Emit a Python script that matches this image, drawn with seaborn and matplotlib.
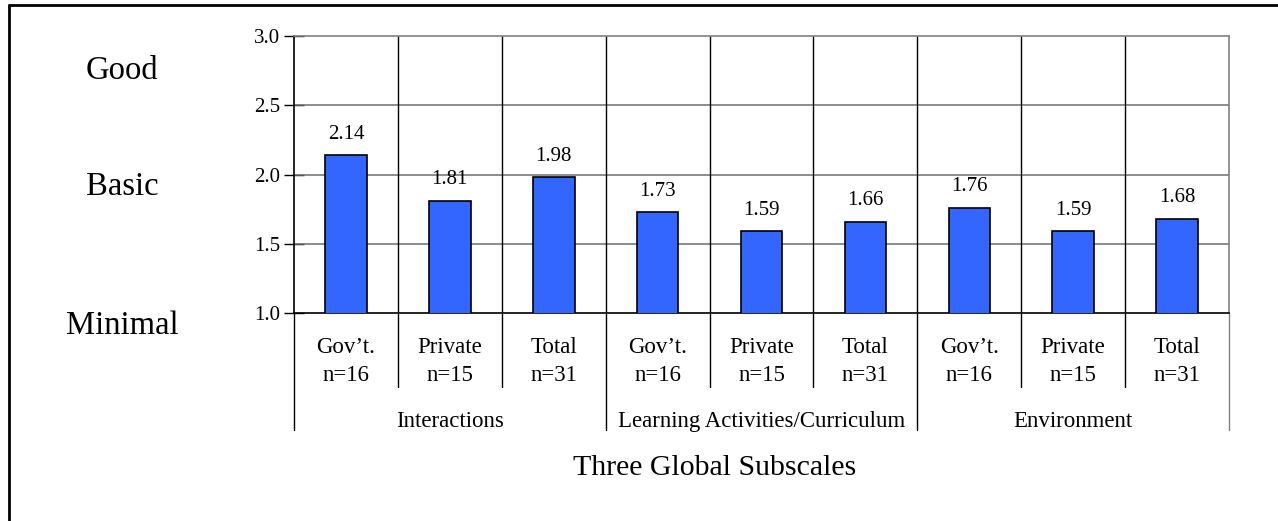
import matplotlib
matplotlib.use("Agg")
import matplotlib.pyplot as plt
from matplotlib.lines import Line2D
import seaborn as sns
import pandas as pd

# Mean scores per subscale and sector
groups = ["Interactions", "Learning Activities/Curriculum", "Environment"]
sectors = ["Gov\u2019t.", "Private", "Total"]
sample_sizes = ["n=16", "n=15", "n=31"]
scores = [2.14, 1.81, 1.98, 1.73, 1.59, 1.66, 1.76, 1.59, 1.68]
value_labels = ["2.14", "1.81", "1.98", "1.73", "1.59", "1.66", "1.76", "1.59", "1.68"]
yticks = [1.0, 1.5, 2.0, 2.5, 3.0]
quality_levels = ["Good", "Basic", "Minimal"]
quality_y = [2.75, 1.91, 0.91]

sns.set_theme(style="white")
plt.rcParams["font.family"] = ["Liberation Serif", "DejaVu Serif"]
plt.rcParams["text.color"] = "black"
plt.rcParams["ytick.labelcolor"] = "black"

df = pd.DataFrame({"slot": list(range(len(scores))), "score": scores})

fig = plt.figure(figsize=(12.78, 5.21), dpi=100)
ax = fig.add_axes([294 / 1278, 1 - 313 / 521, 935 / 1278, 277 / 521])

sns.barplot(data=df, x="slot", y="score", color="#3366FF", saturation=1,
            width=0.4, edgecolor="black", linewidth=1.2, ax=ax, zorder=3)

ax.set_xlim(-0.5, 8.5)
ax.set_ylim(1.0, 3.0)
ax.set_yticks(yticks)
ax.set_yticklabels([f"{t:.1f}" for t in yticks], fontsize=15, color="black")
ax.tick_params(axis="y", direction="inout", length=14, width=1, color="black", pad=3,
               left=True)
ax.tick_params(axis="x", bottom=False, labelbottom=False)
ax.set_xlabel("")
ax.set_ylabel("")

for side in ["top", "right"]:
    ax.spines[side].set_color("#808080")
    ax.spines[side].set_linewidth(1.2)
for side in ["left", "bottom"]:
    ax.spines[side].set_color("black")
    ax.spines[side].set_linewidth(1.2)

# Horizontal grid lines
for t in yticks[1:-1]:
    ax.axhline(t, color="#6e6e6e", linewidth=1.1, zorder=1)

# Column separators inside the plot and the category table below it
xform = ax.get_xaxis_transform()
for b in [0.5, 1.5, 2.5, 3.5, 4.5, 5.5, 6.5, 7.5]:
    ax.plot([b, b], [0, 1], color="black", linewidth=1.0, transform=xform, zorder=1)
for b in [-0.5, 0.5, 1.5, 2.5, 3.5, 4.5, 5.5, 6.5, 7.5, 8.5]:
    major = b in (-0.5, 2.5, 5.5, 8.5)
    low = -0.422 if major else -0.267
    col = "#808080" if b == 8.5 else "black"
    ax.plot([b, b], [0, low], color=col, linewidth=1.0, transform=xform,
            clip_on=False, zorder=1)

# Value labels above bars
for i, (v, lab) in enumerate(zip(scores, value_labels)):
    ax.annotate(lab, (i, v), xytext=(0, 15), textcoords="offset points",
                ha="center", va="center", fontsize=15)

# Sector and sample-size labels
for i in range(len(scores)):
    s = i % 3
    ax.text(i, -0.126, sectors[s], transform=xform, ha="center", va="center", fontsize=16.5)
    ax.text(i, -0.226, sample_sizes[s], transform=xform, ha="center", va="center", fontsize=16.5)

# Subscale group labels
for g, name in enumerate(groups):
    ax.text(g * 3 + 1, -0.39, name, transform=xform, ha="center", va="center", fontsize=16.5)

# Quality level labels on the far left
for name, y in zip(quality_levels, quality_y):
    fig.text(122 / 1278, ax.transData.transform((0, y))[1] / fig.dpi / 5.21,
             name, ha="center", va="center", fontsize=23.5)

fig.text(715 / 1278, 1 - 468 / 521, "Three Global Subscales", ha="center", va="center",
         fontsize=21.5)

# Outer frame (left and top edges)
fig.add_artist(Line2D([9 / 1278, 9 / 1278], [0, 1 - 5 / 521], color="black", linewidth=2))
fig.add_artist(Line2D([9 / 1278, 1], [1 - 5 / 521, 1 - 5 / 521], color="black", linewidth=2))

fig.savefig("out.png", dpi=100)
